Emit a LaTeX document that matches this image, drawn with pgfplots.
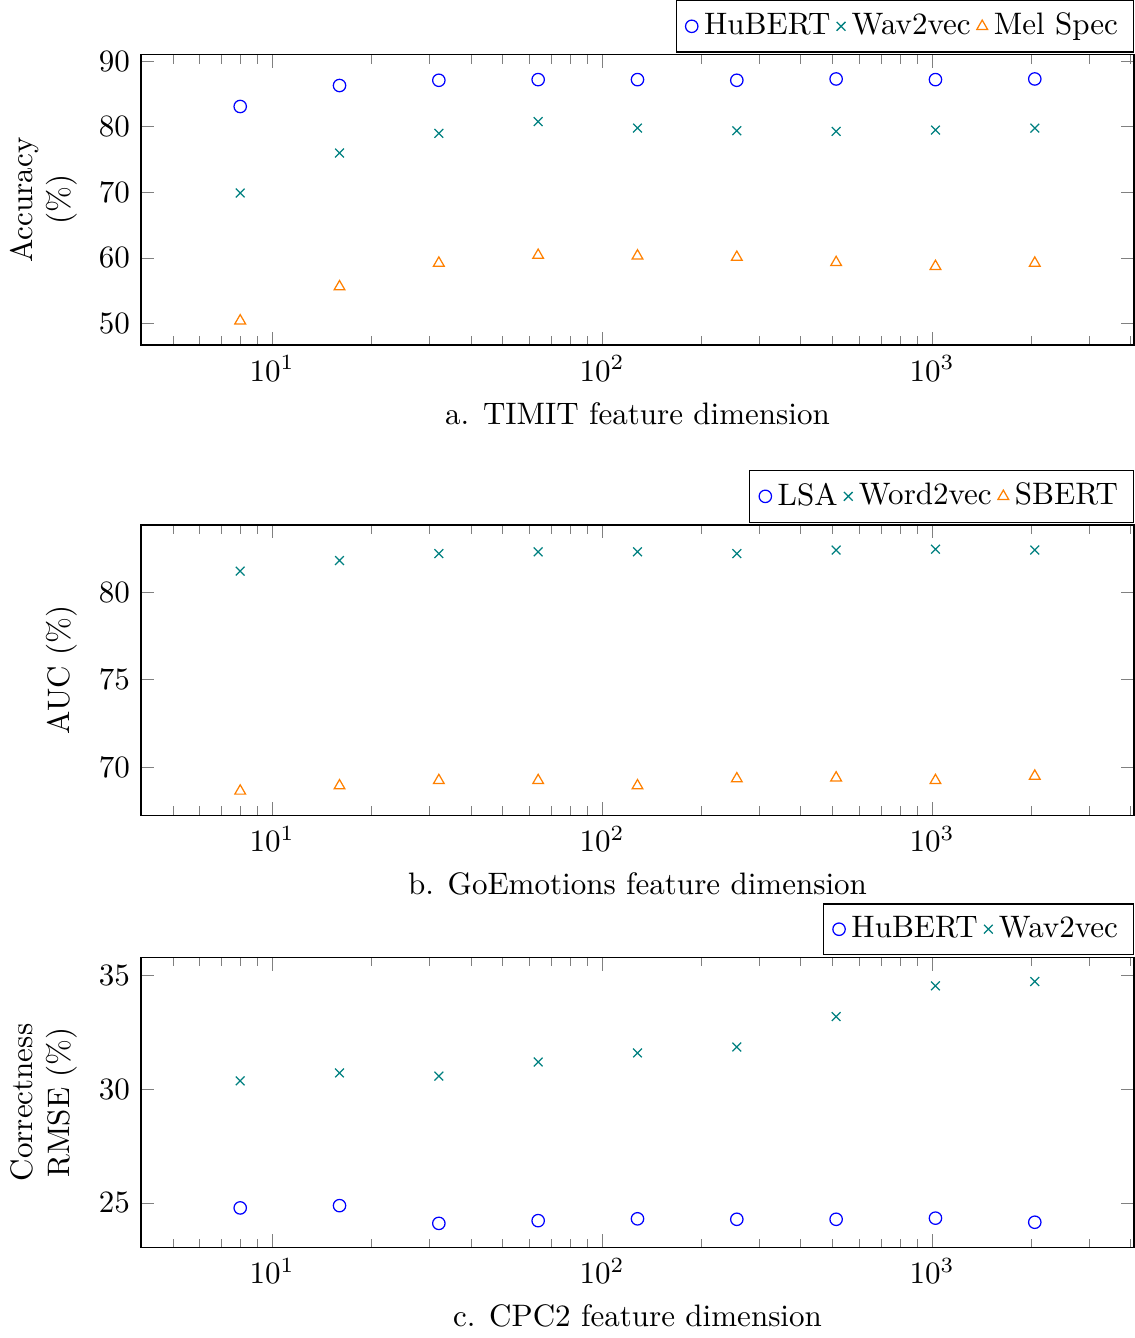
\documentclass[border=0pt]{standalone}
\usepackage{pgfplots}
\pgfplotsset{compat=1.18}
\begin{document}
\begin{tikzpicture}
\pgfplotsset{
  every axis/.append style={
    scale only axis, width=320pt, height=93.5pt,
    xmode=log, xmin=4, xmax=4096,
    log basis x=10,
    ylabel style={align=center},
    legend style={at={(1,1)}, anchor=south east, yshift=0.7pt, legend columns=-1,
      /tikz/every even column/.append style={column sep=0pt}},
  },
  hub/.style={blue, only marks, mark=o, mark size=2pt},
  wav/.style={teal, only marks, mark=x, mark size=2pt},
  mel/.style={orange, only marks, mark=triangle, mark size=2pt},
}
\begin{axis}[name=ax1, anchor=south west, at={(0,0)},
  ylabel={Accuracy\\(\%)}, xlabel={a. TIMIT feature dimension},
  ytick={50,60,70,80,90}]
\addplot[hub] coordinates {(8,83.1) (16,86.3) (32,87.1) (64,87.2) (128,87.2) (256,87.1) (512,87.3) (1024,87.2) (2048,87.3)};
\addplot[wav] coordinates {(8,69.9) (16,76.0) (32,79.0) (64,80.8) (128,79.8) (256,79.4) (512,79.3) (1024,79.5) (2048,79.8)};
\addplot[mel] coordinates {(8,50.4) (16,55.6) (32,59.2) (64,60.4) (128,60.3) (256,60.1) (512,59.3) (1024,58.7) (2048,59.2)};
\legend{HuBERT,Wav2vec,Mel Spec}
\end{axis}
\begin{axis}[name=ax2, anchor=south west, at={(0,-151.5pt)},
  ylabel={AUC (\%)}, xlabel={b. GoEmotions feature dimension},
  ytick={70,75,80}]
\addlegendimage{hub}
\addlegendentry{LSA}
\addplot[wav] coordinates {(8,81.2) (16,81.8) (32,82.2) (64,82.3) (128,82.3) (256,82.2) (512,82.4) (1024,82.45) (2048,82.4)};
\addlegendentry{Word2vec}
\addplot[mel] coordinates {(8,68.65) (16,68.95) (32,69.25) (64,69.25) (128,68.95) (256,69.35) (512,69.4) (1024,69.25) (2048,69.5)};
\addlegendentry{SBERT}
\end{axis}
\begin{axis}[name=ax3, anchor=south west, at={(0,-290.8pt)},
  ylabel={Correctness\\RMSE (\%)}, xlabel={c. CPC2 feature dimension},
  ytick={25,30,35}]
\addplot[hub] coordinates {(8,24.78) (16,24.88) (32,24.1) (64,24.22) (128,24.3) (256,24.28) (512,24.28) (1024,24.33) (2048,24.15)};
\addplot[wav] coordinates {(8,30.37) (16,30.72) (32,30.58) (64,31.2) (128,31.6) (256,31.86) (512,33.2) (1024,34.55) (2048,34.74)};
\legend{HuBERT,Wav2vec}
\end{axis}
\end{tikzpicture}
\end{document}
